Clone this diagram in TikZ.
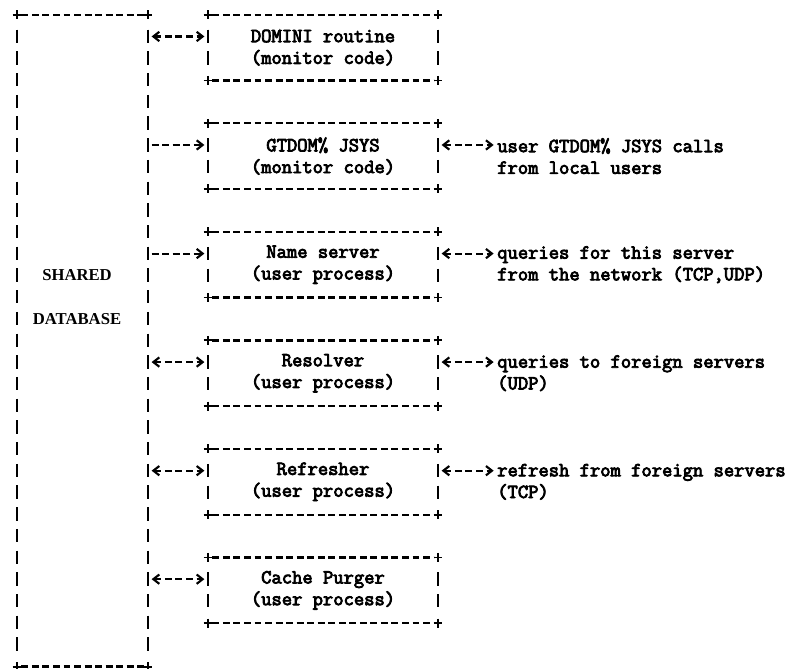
\documentclass[tikz,border=0pt]{standalone}
\usepackage{fontspec}
\newfontfamily\dbfont{Liberation Serif}
\newfontfamily\ttyfont{Latin Modern Mono}[FakeBold=4]
\usetikzlibrary{arrows.meta}

\begin{document}
\begin{tikzpicture}[x=0.75pt,y=-0.75pt,
		proc/.style={minimum width=172.5pt, minimum height=48.85pt, inner sep=0pt, align=center,
			font=\ttyfont\bfseries\fontsize{15}{16.28}\selectfont},
		note/.style={anchor=west, inner sep=0pt, align=left,
			font=\ttyfont\bfseries\fontsize{15}{16.28}\selectfont},
		dbtext/.style={inner sep=0pt, font=\dbfont\bfseries\fontsize{12.5}{14}\selectfont},
		hline/.style={line width=1.7pt, dash pattern=on 5.2pt off 2.7pt, shorten <=3.5pt, shorten >=3.5pt},
		vline/.style={line width=1.6pt, dash pattern=on 10pt off 6.28pt, shorten <=11.2pt, shorten >=11.2pt},
		corner/.style={line width=1.4pt},
		link/.style={line width=1.6pt, dash pattern=on 5.2pt off 2.7pt, shorten <=2.5pt, shorten >=2.5pt,
			>={Straight Barb[length=4.5pt,width=7pt]}}
	]
	\useasboundingbox (0,0) rectangle (800,668);

	% shared database
	\node[minimum width=98.25pt, minimum height=488.5pt, inner sep=0pt] (db) at (82.5,340.65) {};
	\node[dbtext] (shared) at (77,275) {SHARED};
	\node[dbtext] (database) at (77,319) {DATABASE};

	% processes
	\node[proc] (dom) at (323,47.6) {DOMINI routine\\(monitor code)};
	\node[proc] (gtd) at (323,156.1) {GTDOM\% JSYS\\(monitor code)};
	\node[proc] (ns) at (323,264.7) {Name server\\(user process)};
	\node[proc] (res) at (323,373.2) {Resolver\\(user process)};
	\node[proc] (ref) at (323,481.8) {Refresher\\(user process)};
	\node[proc] (cp) at (323,590.3) {Cache Purger\\(user process)};

	% outside partners
	\node[note] (gtd-q) at (497,156.1) {user GTDOM\% JSYS calls\\from local users};
	\node[note] (ns-q) at (497,264.7) {queries for this server\\from the network (TCP,UDP)};
	\node[note] (res-q) at (497,373.2) {queries to foreign servers\\(UDP)};
	\node[note] (ref-q) at (497,481.8) {refresh from foreign servers\\(TCP)};

	% ascii borders
	\foreach \b in {db,dom,gtd,ns,res,ref,cp} {
		\draw[hline] (\b.north west) -- (\b.north east);
		\draw[hline] (\b.south west) -- (\b.south east);
		\draw[vline] (\b.north west) -- (\b.south west);
		\draw[vline] (\b.north east) -- (\b.south east);
		\foreach \a in {north west,north east,south west,south east}
			\draw[corner] (\b.\a) +(-4,0) -- +(4,0) +(0,-4.5) -- +(0,4.5);
	}

	% first text row of each box
	\foreach \b in {dom,gtd,ns,res,ref,cp} {
		\coordinate (\b-l) at ([yshift=-16.28pt]\b.north west);
		\coordinate (\b-r) at ([yshift=-16.28pt]\b.north east);
	}

	\draw[link,<->] (db.east |- dom-l) -- (dom-l);
	\draw[link,->] (db.east |- gtd-l) -- (gtd-l);
	\draw[link,->] (db.east |- ns-l) -- (ns-l);
	\draw[link,<->] (db.east |- res-l) -- (res-l);
	\draw[link,<->] (db.east |- ref-l) -- (ref-l);
	\draw[link,<->] (db.east |- cp-l) -- (cp-l);

	\draw[link,<->] (gtd-r) -- (gtd-q.west |- gtd-r);
	\draw[link,<->] (ns-r) -- (ns-q.west |- ns-r);
	\draw[link,<->] (res-r) -- (res-q.west |- res-r);
	\draw[link,<->] (ref-r) -- (ref-q.west |- ref-r);

\end{tikzpicture}
\end{document}
